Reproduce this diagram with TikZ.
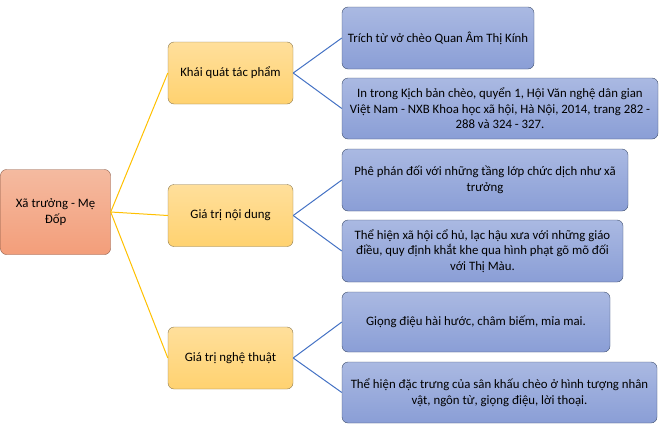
\documentclass[tikz,border=0pt]{standalone}
\usepackage{fontspec}
\setmainfont{Carlito}
\usepackage{tikz}

\definecolor{rootedge}{RGB}{140,90,70}
\definecolor{roottop}{RGB}{244,186,160}
\definecolor{rootbot}{RGB}{243,158,122}
\definecolor{yeledge}{RGB}{140,122,80}
\definecolor{yeltop}{RGB}{255,223,155}
\definecolor{yelbot}{RGB}{255,210,112}
\definecolor{bluedge}{RGB}{62,78,108}
\definecolor{blutop}{RGB}{170,185,226}
\definecolor{blubot}{RGB}{138,158,214}
\definecolor{yelline}{RGB}{255,192,0}
\definecolor{bluline}{RGB}{68,114,196}

\begin{document}
\begin{tikzpicture}[x=1pt,y=-1pt,
	every node/.style={font=\fontsize{12.8}{15.5}\selectfont, align=center, inner sep=1pt},
	rootbox/.style={draw=rootedge, rounded corners=6pt, top color=roottop, bottom color=rootbot},
	topicbox/.style={draw=yeledge, rounded corners=6pt, top color=yeltop, bottom color=yelbot, minimum height=62pt},
	notebox/.style={draw=bluedge, rounded corners=6pt, top color=blutop, bottom color=blubot},
	yelink/.style={draw=yelline, line width=1pt},
	blulink/.style={draw=bluline, line width=1pt}]
		\useasboundingbox (0,0) rectangle (671,431);
		
		\node [rootbox, minimum width=110pt, minimum height=85pt] (root) at (55.5, 212) {Xã trưởng - Mẹ\\ Đốp};
		
		\node [topicbox, minimum width=125pt] (khaiquat) at (230.5, 73) {Khái quát tác phẩm};
		\node [topicbox, minimum width=125pt] (noidung) at (230.5, 215.5) {Giá trị nội dung};
		\node [topicbox, minimum width=125pt] (nghethuat) at (230.5, 358) {Giá trị nghệ thuật};
		
		\node [notebox, minimum width=192pt, minimum height=62pt] (trich) at (438, 38) {Trích từ vở chèo Quan Âm Thị Kính};
		\node [notebox, minimum width=316pt, minimum height=61pt] (introng) at (500, 108.5) {In trong Kịch bản chèo, quyển 1, Hội Văn nghệ dân gian\\ Việt Nam - NXB Khoa học xã hội, Hà Nội, 2014, trang 282 -\\ 288 và 324 - 327.};
		\node [notebox, minimum width=286pt, minimum height=62pt] (phephan) at (485, 180) {Phê phán đối với những tầng lớp chức dịch như xã\\ trưởng};
		\node [notebox, minimum width=281pt, minimum height=62pt] (thehien) at (482.5, 251) {Thể hiện xã hội cổ hủ, lạc hậu xưa với những giáo\\ điều, quy định khắt khe qua hình phạt gõ mõ đối\\ với Thị Màu.};
		\node [notebox, minimum width=268pt, minimum height=60pt] (giongdieu) at (476, 322) {Giọng điệu hài hước, châm biếm, mỉa mai.};
		\node [notebox, minimum width=315pt, minimum height=61pt] (dactrung) at (499.5, 392.5) {Thể hiện đặc trưng của sân khấu chèo ở hình tượng nhân\\ vật, ngôn từ, giọng điệu, lời thoại.};
		
		% nhanh vang
		\draw [yelink] (root.east) -- (khaiquat.west);
		\draw [yelink] (root.east) -- (noidung.west);
		\draw [yelink] (root.east) -- (nghethuat.west);
		
		% nhanh xanh
		\draw [blulink] (khaiquat.east) -- (trich.west);
		\draw [blulink] (khaiquat.east) -- (introng.west);
		\draw [blulink] (noidung.east) -- (phephan.west);
		\draw [blulink] (noidung.east) -- (thehien.west);
		\draw [blulink] (nghethuat.east) -- (giongdieu.west);
		\draw [blulink] (nghethuat.east) -- (dactrung.west);
		
	\end{tikzpicture}
\end{document}
